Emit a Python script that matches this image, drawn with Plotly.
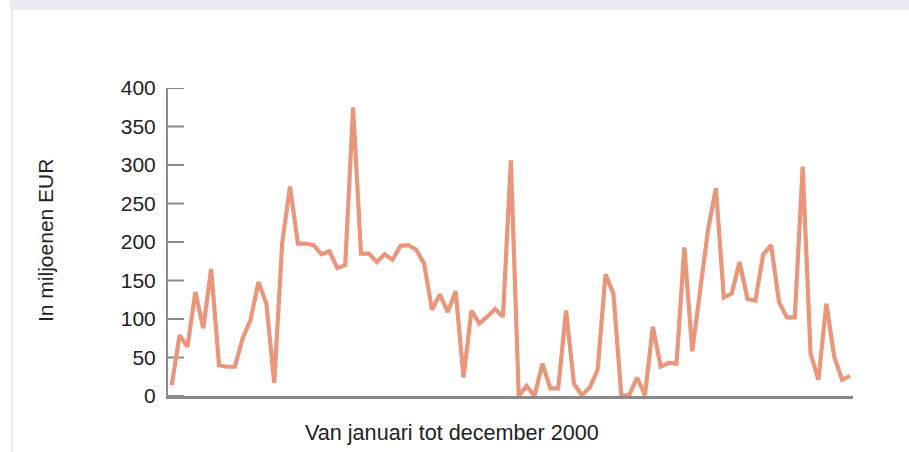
import plotly.graph_objects as go

# Data (monthly values)
months = list(range(1, 88))
values = [14, 79, 64, 135, 88, 165, 40, 38, 38, 75, 99, 148, 120, 17, 198, 272, 198, 198, 196, 184,
          188, 166, 170, 375, 185, 185, 174, 184, 177, 195, 196, 190, 172, 112, 132, 109, 136, 24, 111, 94,
          103, 113, 103, 306, 0, 13, 0, 42, 10, 10, 111, 16, 1, 11, 34, 158, 133, 1, 1, 24,
          1, 90, 38, 43, 42, 193, 58, 142, 216, 270, 128, 133, 174, 126, 124, 184, 196, 122, 102, 102,
          298, 55, 21, 120, 51, 21, 26]
y_ticks = [0, 50, 100, 150, 200, 250, 300, 350, 400]
y_title = "In miljoenen EUR"
x_title = "Van januari tot december 2000"

W, H = 909, 452
L, R, T, B = 168, 56, 88, 56
pw, ph = W - L - R, H - T - B

def px(x):
    return (x - L) / pw

def py(y):
    return (H - B - y) / ph

FONT = "Liberation Sans, Arial, Helvetica, sans-serif"
LAV = "#ecebf4"
AXIS = "#8a8a8a"
TICK_LEN = 16  # px, inward tick marks on the y axis

fig = go.Figure()
fig.add_trace(go.Scatter(
    x=months, y=values, mode="lines",
    line=dict(color="#e9967a", width=4.2),
    hoverinfo="x+y", showlegend=False,
))

# inward y-axis tick marks, one per tick value (placed through the y axis scale)
tick_shapes = [
    dict(type="line", xref="paper", yref="y", x0=0, x1=TICK_LEN / pw, y0=v, y1=v,
         line=dict(color=AXIS, width=2), layer="below")
    for v in y_ticks
]

fig.update_layout(
    width=W, height=H,
    margin=dict(l=L, r=R, t=T, b=B, pad=0),
    paper_bgcolor="white", plot_bgcolor="white",
    font=dict(family=FONT, size=21, color="#222"),
    xaxis=dict(range=[0.53, 87.38], showgrid=False, zeroline=False,
               showticklabels=False, ticks="", showline=True,
               linecolor=AXIS, linewidth=2.5),
    yaxis=dict(range=[0, 400], tickvals=y_ticks, showgrid=False, zeroline=False,
               ticks="", showline=True, linecolor=AXIS, linewidth=2,
               ticklabelstandoff=6,
               tickfont=dict(family=FONT, size=21, color="#222")),
    shapes=[
        dict(type="rect", xref="paper", yref="paper", x0=px(10), x1=px(W), y0=py(0), y1=py(10),
             fillcolor=LAV, line=dict(width=0), layer="below"),
        dict(type="rect", xref="paper", yref="paper", x0=px(11), x1=px(13), y0=py(10), y1=py(H),
             fillcolor=LAV, line=dict(width=0), layer="below"),
    ] + tick_shapes,
    annotations=[
        dict(text=y_title, xref="paper", yref="paper", x=px(45), y=py(241),
             xanchor="center", yanchor="middle", textangle=-90, showarrow=False,
             font=dict(family=FONT, size=21, color="#222")),
        dict(text=x_title, xref="paper", yref="paper", x=px(451.5), y=py(432),
             xanchor="center", yanchor="middle", showarrow=False,
             font=dict(family=FONT, size=21.6, color="#222")),
    ],
)

# Remove the default 8px body margin so the figure sits at the page origin
fig.write_html("out.html", config={"displayModeBar": False},
               post_script="document.body.style.margin='0';")
